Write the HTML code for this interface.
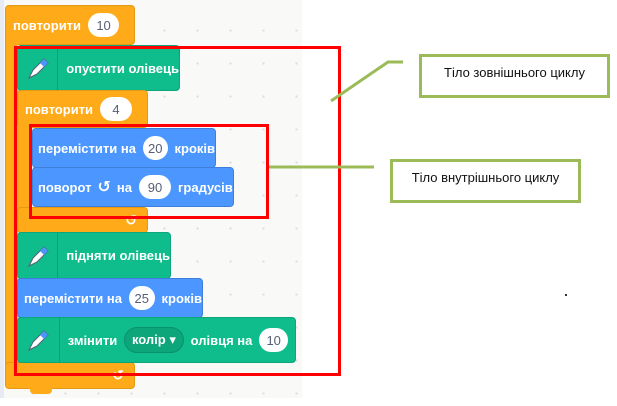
<!DOCTYPE html>
<html><head><meta charset="utf-8"><style>
*{margin:0;padding:0;box-sizing:border-box}
body{width:617px;height:406px;position:relative;background:#fff;overflow:hidden;font-family:"Liberation Sans","DejaVu Sans",sans-serif}
.a{position:absolute}
.ws{left:4px;top:0;width:298px;height:398px;background:#f9f9f7;background-image:radial-gradient(#dcdcdc 1px,transparent 1.2px);background-size:33px 33px;background-position:12px 14px}
.b{position:absolute;border-radius:4px;color:#fff;font-size:13px;font-weight:bold;display:flex;align-items:center;white-space:nowrap}
.o{background:#ffab19;border:1px solid #e29a14}
.g{background:#0fbd8c;border:1px solid #0da57a}
.bl{background:#4c97ff;border:1px solid #3f7fd9}
.p{background:#fff;color:#575e75;border-radius:12px;height:24px;display:inline-flex;align-items:center;justify-content:center;font-weight:normal;font-size:13px;margin:0 7px}
.ic{width:45px;height:100%;border-right:1px solid #0b9f76;display:flex;align-items:center;justify-content:center;margin-right:8px}
.red{position:absolute;border:3px solid #f00}
.gb{position:absolute;border:3px solid #9bbb59;font-size:13px;color:#111;text-align:center;padding-top:8px;background:#fff}
</style></head><body>
<div class="a" style="left:0;top:0;width:4px;height:398px;background:#e6ebf4"></div>
<div class="a ws"></div>

<div class="b o" style="left:5px;top:5px;width:130px;height:40px;padding-left:7px">повторити<span class="p" style="width:31px">10</span></div>
<div class="a" style="left:5px;top:40px;width:13px;height:330px;background:#ffab19;border-left:1px solid #e29a14"></div>
<div class="b o" style="left:5px;top:362px;width:130px;height:27px;justify-content:flex-end;padding-right:10px;font-size:14px">↺</div>
<div class="a" style="left:30px;top:386px;width:22px;height:8px;background:#ffab19;border-radius:0 0 4px 4px"></div>

<div class="b g" style="left:17px;top:45px;width:163px;height:46px"><div class="ic"><svg width="26" height="26" viewBox="0 0 26 26"><path d="M4 23 L8 15 L19 4 L23 8 L12 19 Z" fill="#fff" stroke="#575e75" stroke-width="1"/><path d="M15 8 L19 4 L23 8 L19 12Z" fill="#4c97ff"/></svg></div>опустити олівець</div>

<div class="b o" style="left:17px;top:90px;width:131px;height:38px;padding-left:7px">повторити<span class="p" style="width:32px">4</span></div>
<div class="a" style="left:17px;top:125px;width:15px;height:90px;background:#ffab19"></div>
<div class="b o" style="left:17px;top:207px;width:131px;height:26px;justify-content:flex-end;padding-right:10px;font-size:14px">↺</div>

<div class="b bl" style="left:32px;top:128px;width:184px;height:40px;padding-left:5px">перемістити на<span class="p" style="width:32px">20</span>кроків</div>
<div class="b bl" style="left:32px;top:167px;width:202px;height:40px;padding-left:5px">поворот <span style="font-size:16px;margin:0 6px">↺</span> на<span class="p" style="width:32px">90</span>градусів</div>

<div class="b g" style="left:17px;top:232px;width:154px;height:47px"><div class="ic"><svg width="26" height="26" viewBox="0 0 26 26"><path d="M4 23 L8 15 L19 4 L23 8 L12 19 Z" fill="#fff" stroke="#575e75" stroke-width="1"/><path d="M15 8 L19 4 L23 8 L19 12Z" fill="#4c97ff"/></svg></div>підняти олівець</div>
<div class="b bl" style="left:17px;top:278px;width:186px;height:40px;padding-left:6px">перемістити на<span class="p" style="width:32px">25</span>кроків</div>
<div class="b g" style="left:17px;top:317px;width:279px;height:46px"><div class="ic"><svg width="26" height="26" viewBox="0 0 26 26"><path d="M4 23 L8 15 L19 4 L23 8 L12 19 Z" fill="#fff" stroke="#575e75" stroke-width="1"/><path d="M15 8 L19 4 L23 8 L19 12Z" fill="#4c97ff"/></svg></div>змінити<span style="background:#0da57a;border:1px solid #0b9070;border-radius:13px;height:26px;width:64px;display:inline-flex;align-items:center;justify-content:center;margin:0 7px">колір ▾</span>олівця на<span class="p" style="width:31px">10</span></div>

<div class="red" style="left:14px;top:46px;width:327px;height:330px"></div>
<div class="red" style="left:29px;top:124px;width:240px;height:95px"></div>

<svg class="a" style="left:0;top:0" width="617" height="406"><polyline points="331,101 388,62 403,62" fill="none" stroke="#9bbb59" stroke-width="3"/><line x1="269" y1="167" x2="374" y2="167" stroke="#9bbb59" stroke-width="3"/><rect x="565" y="294" width="2" height="2" fill="#333"/></svg>
<div class="gb" style="left:419px;top:54px;width:191px;height:44px">Тіло зовнішнього циклу</div>
<div class="gb" style="left:390px;top:159px;width:191px;height:44px">Тіло внутрішнього циклу</div>
</body></html>
